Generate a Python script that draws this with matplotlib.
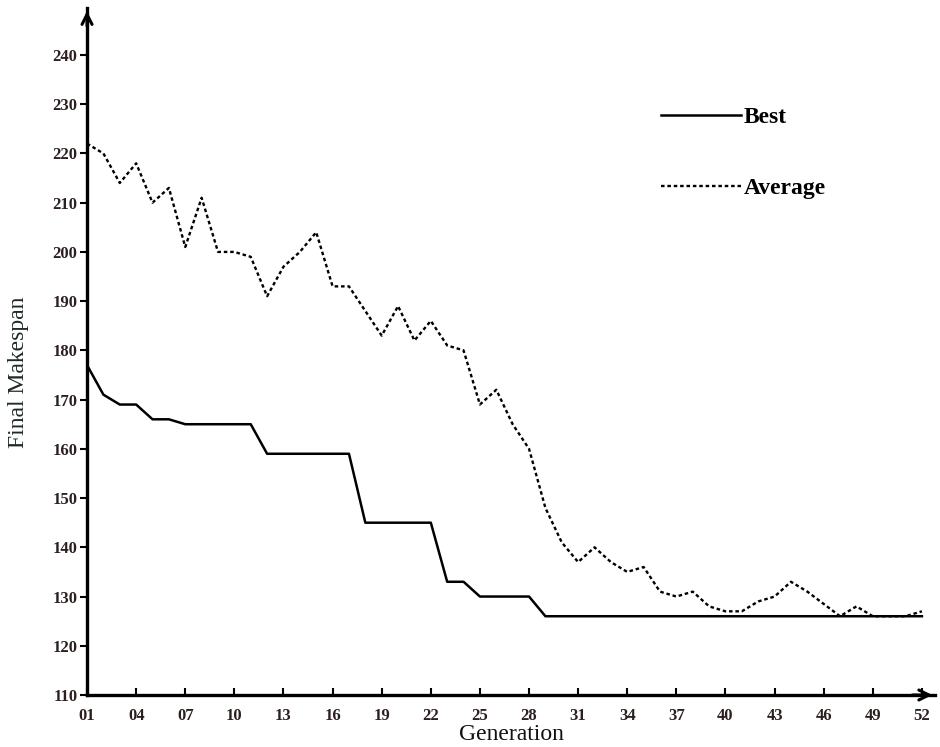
import numpy as np
import matplotlib
matplotlib.use('Agg')
import matplotlib.pyplot as plt

# data
generations = np.arange(1, 53)
best = [177, 171, 169, 169, 166, 166, 165, 165, 165, 165,
        165, 159, 159, 159, 159, 159, 159, 145, 145, 145,
        145, 145, 133, 133, 130, 130, 130, 130, 126, 126,
        126, 126, 126, 126, 126, 126, 126, 126, 126, 126,
        126, 126, 126, 126, 126, 126, 126, 126, 126, 126,
        126, 126]
average = [222, 220, 214, 218, 210, 213, 201, 211, 200, 200,
           199, 191, 197, 200, 204, 193, 193, 188, 183, 189,
           182, 186, 181, 180, 169, 172, 165, 160, 148, 141,
           137, 140, 137, 135, 136, 131, 130, 131, 128, 127,
           127, 129, 130, 133, 131, 128.5, 126, 128, 126, 126,
           126, 127]
x_ticks = list(range(1, 53, 3))
x_tick_labels = ['%02d' % t for t in x_ticks]
y_ticks = list(range(110, 241, 10))

plt.rcParams['font.family'] = ['Liberation Serif', 'DejaVu Serif']

fig = plt.figure(figsize=(9.4, 7.47), dpi=100)
ax = fig.add_axes([0.0926, 0.0696, 0.9021, 0.9194])

ax.plot(generations, best, color='black', lw=1.8, label='Best')
ax.plot(generations, average, color='black', lw=1.7, linestyle=(0, (1.5, 1.2)),
        label='Average')

ax.set_xlim(1, 52.8)
ax.set_ylim(110, 249.5)

for s in ['top', 'right']:
    ax.spines[s].set_visible(False)
for s in ['left', 'bottom']:
    ax.spines[s].set_linewidth(2.4)

# arrow heads on the axes
ax.annotate('', xy=(0, 1.0), xytext=(0, 0.97), xycoords='axes fraction',
            arrowprops=dict(arrowstyle='->', lw=2.2, color='black',
                            mutation_scale=18), annotation_clip=False)
ax.annotate('', xy=(1.0, 0), xytext=(0.97, 0), xycoords='axes fraction',
            arrowprops=dict(arrowstyle='->', lw=2.2, color='black',
                            mutation_scale=18), annotation_clip=False)

ax.set_xticks(x_ticks)
ax.set_xticklabels(x_tick_labels)
ax.set_yticks(y_ticks)
ax.tick_params(axis='x', direction='in', length=5, width=1.5, pad=9)
ax.tick_params(axis='y', direction='out', length=5, width=1.5, pad=2)
for lab in ax.get_xticklabels() + ax.get_yticklabels():
    lab.set_fontweight('bold')
    lab.set_fontsize(12)
    lab.set_color('#2b1f1f')

ax.set_xlabel('Generation', fontsize=17, labelpad=0, color='#111')
ax.set_ylabel('Final Makespan', fontsize=17, color='#1f2a22')
ax.yaxis.set_label_coords(-0.068, 0.47)

leg = ax.legend(loc='upper left', bbox_to_anchor=(0.652, 0.888), frameon=False,
                handlelength=3.4, handletextpad=0.1, labelspacing=2.1,
                prop={'family': 'Liberation Serif', 'weight': 'bold', 'size': 17})

fig.savefig('out.png', dpi=100)
